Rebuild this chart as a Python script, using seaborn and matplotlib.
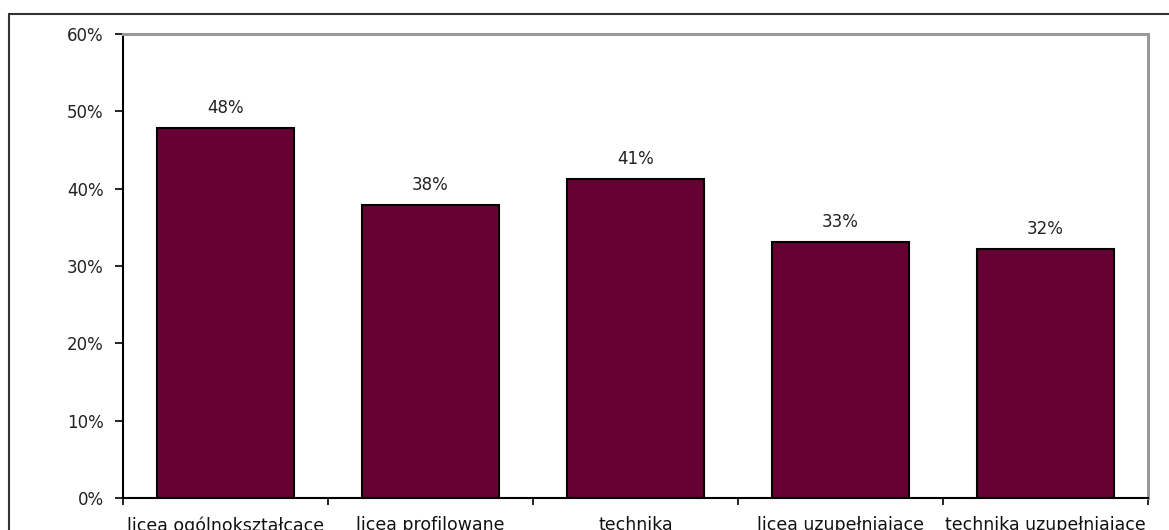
import matplotlib
matplotlib.use("Agg")
import matplotlib.pyplot as plt
import seaborn as sns
import pandas as pd
import numpy as np

categories = ["licea ogólnokształcace", "licea profilowane", "technika",
              "licea uzupełniajace", "technika uzupełniajace"]
values = [47.8, 37.9, 41.3, 33.1, 32.2]
value_labels = ["48%", "38%", "41%", "33%", "32%"]
yticks = [0, 10, 20, 30, 40, 50, 60]
ytick_labels = ["0%", "10%", "20%", "30%", "40%", "50%", "60%"]

sns.set_theme(style="white")
plt.rcParams['font.family'] = ['DejaVu Sans']

df = pd.DataFrame({"cat": categories, "val": values})

fig = plt.figure(figsize=(11.69, 5.30), dpi=100)
W, H = 1169, 530
ax = fig.add_axes([123 / W, (H - 498) / H, 1025 / W, 464 / H])

sns.barplot(data=df, x="cat", y="val", color="#660033", edgecolor="black",
            linewidth=1.5, width=0.67, saturation=1, ax=ax)

ax.set_xlim(-0.5, len(categories) - 0.5)
ax.set_ylim(0, 60)
ax.set_yticks(yticks)
ax.set_yticklabels(ytick_labels, fontsize=12, color="#222222")
ax.set_xticks(range(len(categories)))
ax.set_xticklabels(categories, fontsize=12.5, color="#111111")
ax.set_xticks(np.arange(-0.5, len(categories)), minor=True)
ax.tick_params(axis="x", which="major", length=0, pad=13)
ax.tick_params(axis="x", which="minor", length=5, width=1.2, color="black", direction="out", bottom=True)
ax.tick_params(axis="y", which="major", length=6, width=1.2, color="black", direction="out", left=True, pad=8)
ax.set_xlabel("")
ax.set_ylabel("")

for side in ["left", "bottom"]:
    ax.spines[side].set_color("black")
    ax.spines[side].set_linewidth(1.5)
for side in ["top", "right"]:
    ax.spines[side].set_color("#999999")
    ax.spines[side].set_linewidth(2.2)

for i, (v, lab) in enumerate(zip(values, value_labels)):
    ax.annotate(lab, (i, v), xytext=(0, 8), textcoords="offset points",
                ha="center", va="bottom", fontsize=12, color="#222222")

# outer frame
fig.add_artist(plt.Line2D([9 / W, 1.0], [1 - 14 / H, 1 - 14 / H], color="#333333", linewidth=1.5,
                          transform=fig.transFigure))
fig.add_artist(plt.Line2D([9 / W, 9 / W], [0, 1 - 14 / H], color="#333333", linewidth=1.5,
                          transform=fig.transFigure))

fig.savefig("out.png", dpi=100)
